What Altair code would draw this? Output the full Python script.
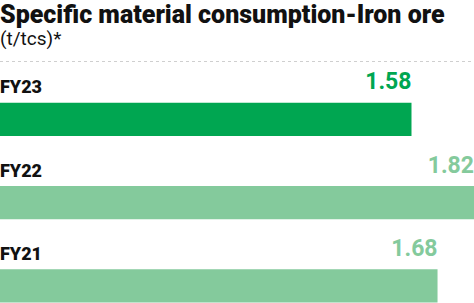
import altair as alt
import pandas as pd

categories = ["FY23", "FY22", "FY21"]
values = [1.58, 1.82, 1.68]
labels = ["1.58", "1.82", "1.68"]
bar_colors = ["#00A651", "#84CA9C", "#84CA9C"]

df = pd.DataFrame({"year": categories, "value": values, "label": labels, "color": bar_colors})

x_scale = alt.Scale(domain=[0, 1.82], range=[0, 474], nice=False, zero=True)
y_scale = alt.Scale(domain=categories, range=[41.7, 241.6], paddingInner=0.6, paddingOuter=0)

base = alt.Chart(df)

bars = base.mark_bar().encode(
    x=alt.X("value:Q", scale=x_scale, axis=None),
    y=alt.Y("year:N", scale=y_scale, axis=None, sort=categories),
    color=alt.Color("color:N", scale=None),
)

cat_text = base.mark_text(
    align="left", baseline="alphabetic", dy=-26, font="Roboto", fontSize=18,
    fontWeight=900, color="#111111"
).encode(
    x=alt.value(0),
    y=alt.Y("year:N", scale=y_scale, axis=None, sort=categories),
    text="year:N",
)

val_text = base.mark_text(
    align="right", baseline="alphabetic", dy=-30, font="Roboto", fontSize=23,
    fontWeight="bold"
).encode(
    x=alt.X("value:Q", scale=x_scale, axis=None),
    y=alt.Y("year:N", scale=y_scale, axis=None, sort=categories),
    text="label:N",
    color=alt.Color("color:N", scale=None),
)

rule = alt.Chart(pd.DataFrame({"a": [0]})).mark_rule(
    color="#cfcfcf", strokeDash=[3, 3], strokeWidth=1
).encode(x=alt.value(0), x2=alt.value(474), y=alt.value(0.5))

chart = alt.layer(rule, bars, cat_text, val_text).properties(
    width=474,
    height=242,
    padding={"top": 61, "left": 0, "right": 0, "bottom": 0},
    autosize=alt.AutoSizeParams(type="none"),
    title=alt.TitleParams(
        text="Specific material consumption-Iron ore",
        subtitle="(t/tcs)*",
        anchor="start",
        frame="group",
        font="Roboto",
        fontSize=25,
        fontWeight=900,
        color="#111111",
        subtitleFont="Roboto",
        subtitleFontSize=19,
        subtitleColor="#111111",
        subtitlePadding=2,
        offset=12,
    ),
).configure_view(stroke=None)

chart.save("out.html", embed_options={"renderer": "svg", "actions": False})
